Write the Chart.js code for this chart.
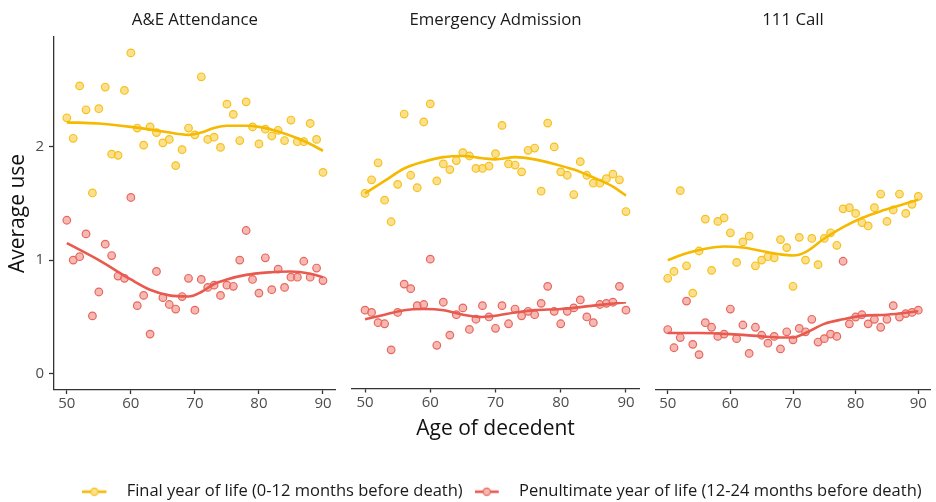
<!DOCTYPE html>
<html><head><meta charset="utf-8">
<script src="https://cdn.jsdelivr.net/npm/chart.js@4/dist/chart.umd.min.js"></script>
<style>
html,body{margin:0;padding:0;background:#fff;width:936px;height:502px;overflow:hidden}
canvas{position:absolute;top:0}
</style></head><body>
<canvas id="c1" width="341" height="420" style="left:0"></canvas>
<canvas id="c3" width="286" height="420" style="left:650px"></canvas>
<canvas id="c2" width="868" height="510" style="left:68px"></canvas>
<script>
// ---------- data ----------
const panels = ['A&E Attendance', 'Emergency Admission', '111 Call'];
const seriesNames = ['Final year of life (0-12 months before death)', 'Penultimate year of life (12-24 months before death)'];
const xTitle = 'Age of decedent';
const yTitle = 'Average use';
const xTicks = [50, 60, 70, 80, 90];
const yTicks = [0, 1, 2];
const ages = [50,51,52,53,54,55,56,57,58,59,60,61,62,63,64,65,66,67,68,69,70,71,72,73,74,75,76,77,78,79,80,81,82,83,84,85,86,87,88,89,90];

const aeFinal   = [2.25,2.07,2.53,2.32,1.59,2.33,2.52,1.93,1.92,2.49,2.82,2.16,2.01,2.17,2.12,2.03,2.06,1.83,1.97,2.16,2.10,2.61,2.06,2.08,1.99,2.37,2.28,2.05,2.39,2.17,2.02,2.15,2.09,2.14,2.05,2.23,2.04,2.04,2.20,2.06,1.77];
const aePenult  = [1.35,1.00,1.03,1.23,0.51,0.72,1.14,1.04,0.86,0.84,1.55,0.60,0.69,0.35,0.90,0.67,0.61,0.57,0.68,0.84,0.56,0.83,0.76,0.78,0.69,0.78,0.77,1.00,1.26,0.83,0.71,1.02,0.74,0.92,0.76,0.85,0.85,0.99,0.85,0.93,0.82];
const emFinal   = [1.58,1.70,1.85,1.52,1.33,1.66,2.28,1.74,1.63,2.21,2.37,1.69,1.84,1.79,1.87,1.94,1.91,1.80,1.80,1.82,1.93,2.18,1.84,1.83,1.77,1.96,1.98,1.60,2.20,1.99,1.77,1.74,1.57,1.86,1.74,1.67,1.67,1.71,1.75,1.70,1.42];
const emPenult  = [0.55,0.53,0.44,0.43,0.20,0.53,0.78,0.74,0.59,0.60,1.00,0.24,0.62,0.33,0.51,0.57,0.38,0.47,0.59,0.49,0.39,0.59,0.43,0.56,0.50,0.54,0.51,0.61,0.76,0.54,0.43,0.54,0.57,0.64,0.49,0.44,0.60,0.61,0.62,0.76,0.55];
const callFinal = [0.84,0.90,1.61,0.95,0.71,1.08,1.36,0.91,1.34,1.37,1.24,0.98,1.16,1.21,0.95,1.00,1.03,1.02,1.18,1.11,0.77,1.20,1.00,1.19,0.96,1.19,1.24,1.13,1.45,1.46,1.41,1.33,1.30,1.46,1.58,1.34,1.44,1.58,1.41,1.49,1.56];
const callPenult= [0.39,0.23,0.32,0.64,0.26,0.17,0.45,0.41,0.33,0.35,0.57,0.31,0.43,0.18,0.41,0.34,0.27,0.33,0.22,0.37,0.30,0.40,0.37,0.48,0.28,0.31,0.35,0.33,0.99,0.44,0.50,0.52,0.44,0.48,0.41,0.48,0.60,0.50,0.53,0.54,0.56];

// smoothed trend lines
const aeFinalFitAges    = [50,55,60,65,69,71,73,75,78,80,83,86,88,90];
const aeFinalFit        = [2.21,2.20,2.17,2.13,2.10,2.12,2.16,2.18,2.18,2.17,2.13,2.07,2.02,1.96];
const aePenultFitAges   = [50,55,60,63,66,69,71,73,75,78,81,85,88,90];
const aePenultFit       = [1.15,1.00,0.83,0.74,0.69,0.68,0.72,0.79,0.83,0.87,0.89,0.90,0.88,0.85];
const emFinalFitAges    = [50,53,56,59,62,65,68,70,73,76,79,82,85,88,90];
const emFinalFit        = [1.58,1.69,1.80,1.86,1.90,1.91,1.89,1.88,1.90,1.88,1.84,1.79,1.72,1.64,1.56];
const emPenultFitAges   = [50,53,56,59,62,65,68,70,73,76,80,85,90];
const emPenultFit       = [0.47,0.51,0.55,0.56,0.55,0.51,0.49,0.50,0.53,0.55,0.56,0.59,0.62];
const callFinalFitAges  = [50,53,56,59,62,65,68,70,72,75,78,81,84,87,90];
const callFinalFit      = [1.00,1.06,1.10,1.12,1.11,1.08,1.05,1.04,1.07,1.19,1.29,1.37,1.43,1.48,1.53];
const callPenultFitAges = [50,55,60,65,68,70,72,75,78,81,85,90];
const callPenultFit     = [0.36,0.36,0.35,0.33,0.32,0.32,0.36,0.44,0.48,0.51,0.52,0.55];

// ---------- styles ----------
const FONT = "'Open Sans', 'Noto Sans', sans-serif";
const AXIS = '#333333';
const TICKC = '#4D4D4D';
const Y_LINE = '#F5B900', Y_PT_BORDER = '#F5C21B', Y_PT_FILL = 'rgba(250,205,75,0.62)';
const R_LINE = '#E85A4F', R_PT_BORDER = '#E8675D', R_PT_FILL = 'rgba(240,140,132,0.62)';
const Y_MIN = -0.141, Y_MAX = 2.96, X_MIN = 48, X_MAX = 92;

function pts(vals){ return ages.map((a,i)=>({x:a, y:vals[i]})); }
function fit(xs, vals){ return xs.map((a,i)=>({x:a, y:vals[i]})); }

function datasets(fFinal, fPen, sFinalX, sFinal, sPenX, sPen){
  return [
    {type:'line', data: fit(sFinalX, sFinal), borderColor:Y_LINE, borderWidth:2.6, pointRadius:0, fill:false, cubicInterpolationMode:'monotone', order:0},
    {type:'line', data: fit(sPenX, sPen), borderColor:R_LINE, borderWidth:2.6, pointRadius:0, fill:false, cubicInterpolationMode:'monotone', order:0},
    {type:'scatter', data: pts(fPen), backgroundColor:R_PT_FILL, borderColor:R_PT_BORDER, borderWidth:1.2, pointRadius:3.8, order:1},
    {type:'scatter', data: pts(fFinal), backgroundColor:Y_PT_FILL, borderColor:Y_PT_BORDER, borderWidth:1.2, pointRadius:3.8, order:1}
  ];
}

function xScale(height, showTitle){
  return {
    type:'linear', position:'bottom', min:X_MIN, max:X_MAX,
    afterBuildTicks: s => { s.ticks = xTicks.map(v=>({value:v})); },
    afterFit: s => { s.height = height; },
    border:{display:true, color:AXIS, width:1.3},
    grid:{display:true, drawOnChartArea:false, drawTicks:true, tickLength:4, tickWidth:1.3, tickColor:AXIS, color:AXIS},
    ticks:{color:TICKC, font:{family:FONT, size:15}, padding:1, maxRotation:0, autoSkip:false},
    title:{display:showTitle, text:xTitle, color:'#111', font:{family:FONT, size:21}, padding:{top:0, bottom:29.4}}
  };
}
function stripTitle(text){
  return {display:true, text:text, fullSize:false, color:'#1a1a1a', font:{family:FONT, size:16.8, weight:'normal'}, padding:{top:9.9, bottom:6.9}};
}

Chart.defaults.animation = false;
Chart.defaults.events = [];

// ---------- panel 1 (with y axis) ----------
new Chart(document.getElementById('c1'), {
  type:'scatter',
  data:{datasets: datasets(aeFinal, aePenult, aeFinalFitAges, aeFinalFit, aePenultFitAges, aePenultFit)},
  options:{
    responsive:false, devicePixelRatio:1, layout:{padding:0},
    plugins:{legend:{display:false}, tooltip:{enabled:false}, title: stripTitle(panels[0])},
    scales:{
      x: xScale(30, false),
      y:{type:'linear', min:Y_MIN, max:Y_MAX,
        afterBuildTicks: s => { s.ticks = yTicks.map(v=>({value:v})); },
        afterFit: s => { s.width = 54; },
        border:{display:true, color:AXIS, width:1.3},
        grid:{display:true, drawOnChartArea:false, drawTicks:true, tickLength:5, tickWidth:1.3, tickColor:AXIS, color:AXIS},
        ticks:{color:TICKC, font:{family:FONT, size:15}, padding:5},
        title:{display:true, text:yTitle, color:'#111', font:{family:FONT, size:21}, padding:{top:5.4, bottom:0}}
      }
    }
  }
});

// ---------- panel 3 ----------
new Chart(document.getElementById('c3'), {
  type:'scatter',
  data:{datasets: datasets(callFinal, callPenult, callFinalFitAges, callFinalFit, callPenultFitAges, callPenultFit)},
  options:{
    responsive:false, devicePixelRatio:1, layout:{padding:0},
    plugins:{legend:{display:false}, tooltip:{enabled:false}, title: stripTitle(panels[2])},
    scales:{
      x: xScale(30, false),
      y:{type:'linear', display:false, min:Y_MIN, max:Y_MAX}
    }
  }
});

// ---------- panel 2 (with x title and legend) ----------
function legendIcon(line, border, fill){
  const c = document.createElement('canvas'); c.width = 36; c.height = 12;
  const g = c.getContext('2d');
  g.strokeStyle = line; g.lineWidth = 2.6;
  g.beginPath(); g.moveTo(0,6); g.lineTo(24,6); g.stroke();
  g.beginPath(); g.arc(12,6,3.6,0,Math.PI*2);
  g.fillStyle = '#fff'; g.fill(); g.fillStyle = fill; g.fill();
  g.lineWidth = 1.2; g.strokeStyle = border; g.stroke();
  return c;
}
const icons = [legendIcon(Y_LINE, Y_PT_BORDER, Y_PT_FILL), legendIcon(R_LINE, R_PT_BORDER, R_PT_FILL)];

new Chart(document.getElementById('c2'), {
  type:'scatter',
  data:{datasets: datasets(emFinal, emPenult, emFinalFitAges, emFinalFit, emPenultFitAges, emPenultFit)},
  options:{
    responsive:false, devicePixelRatio:1, layout:{padding:0},
    plugins:{
      tooltip:{enabled:false},
      title: stripTitle(panels[1]),
      legend:{display:true, position:'bottom', align:'center',
        labels:{usePointStyle:true, pointStyleWidth:36, padding:12, color:'#1a1a1a', font:{family:FONT, size:16.5},
          generateLabels: () => seriesNames.map((n,i)=>({text:n, pointStyle:icons[i], fillStyle:'transparent', strokeStyle:'transparent', lineWidth:0, hidden:false, fontColor:'#1a1a1a', datasetIndex:i}))
        }
      }
    },
    scales:{
      x: xScale(83, true),
      y:{type:'linear', position:'left', min:Y_MIN, max:Y_MAX,
        afterFit: s => { s.width = 284; },
        border:{display:false}, grid:{display:false}, ticks:{display:false}},
      yr:{type:'linear', position:'right', min:Y_MIN, max:Y_MAX,
        afterFit: s => { s.width = 297; },
        border:{display:false}, grid:{display:false}, ticks:{display:false}}
    }
  }
});
</script>
</body></html>
